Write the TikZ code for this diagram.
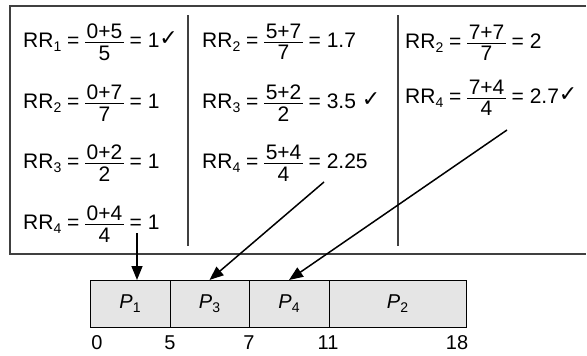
\documentclass[tikz,border=0pt]{standalone}
\usepackage{fontspec}
\usepackage{amsmath}
\setmainfont{Liberation Sans}
\newfontfamily\symfont{DejaVu Sans}
\usetikzlibrary{positioning,arrows.meta}

% stacked fraction with plain text
\newcommand{\fr}[2]{\ensuremath{\vcenter{\hbox{%
  \setbox0=\hbox{#1}\setbox2=\hbox{#2}%
  \dimen0=\wd0 \ifdim\wd2>\dimen0 \dimen0=\wd2 \fi
  \advance\dimen0 by 3pt%
  \vbox{\hbox to\dimen0{\hss\box0\hss}\kern3pt\hrule height0.9pt\kern3pt%
        \hbox to\dimen0{\hss\box2\hss}}}}}}
\newcommand{\rr}[4]{RR\raisebox{-4.5pt}{\fontsize{14}{14}\selectfont #1} = \fr{#2}{#3} = #4}
\newcommand{\ok}{\raisebox{2pt}{\symfont\fontsize{22}{22}\selectfont ✓}}

\begin{document}
\begin{tikzpicture}[
  x=1pt, y=-1pt,
  frame/.style={line width=1.5pt, black!75},
  sep/.style={line width=1.2pt, black!75},
  eq/.style={anchor=west, inner sep=0pt, font=\fontsize{21}{25}\selectfont},
  cell/.style={draw, line width=0.8pt, fill=gray!20, minimum height=47pt,
               inner sep=0pt, outer sep=0pt, font=\fontsize{20}{24}\selectfont},
  tick/.style={font=\fontsize{20}{24}\selectfont, inner sep=0pt},
  arr/.style={-{Triangle[length=14pt, width=11pt]}, line width=1.5pt}
]
\useasboundingbox (0,0) rectangle (587,356);

% frame, open on the right
\draw[frame] (586,6) -- (10,6) -- (10,254) -- (586,254);
\draw[sep] (188,15) -- (188,246);
\draw[sep] (398,15) -- (398,246);

% first column
\node[eq] (a1) at (23,42)  {\rr{1}{0+5}{5}{1}\ok};
\node[eq] (a2) at (23,103) {\rr{2}{0+7}{7}{1}};
\node[eq] (a3) at (23,163) {\rr{3}{0+2}{2}{1}};
\node[eq] (a4) at (23,224) {\rr{4}{0+4}{4}{1}};

% second column
\node[eq] (b2) at (202,42)  {\rr{2}{5+7}{7}{1.7}};
\node[eq] (b3) at (202,103) {\rr{3}{5+2}{2}{3.5} \ok};
\node[eq] (b4) at (202,163) {\rr{4}{5+4}{4}{2.25}};

% third column
\node[eq] (c2) at (405,43) {\rr{2}{7+7}{7}{2}};
\node[eq] (c4) at (405,98) {\rr{4}{7+4}{4}{2.7}\ok};

% gantt chart
\node[cell, minimum width=80pt] (p1) at (130,303.5) {\textit{P}\raisebox{-4.5pt}{\fontsize{14}{14}\selectfont 1}};
\node[cell, minimum width=79pt, right=0pt of p1] (p3) {\textit{P}\raisebox{-4.5pt}{\fontsize{14}{14}\selectfont 3}};
\node[cell, minimum width=80pt, right=0pt of p3] (p4) {\textit{P}\raisebox{-4.5pt}{\fontsize{14}{14}\selectfont 4}};
\node[cell, minimum width=137pt, right=0pt of p4] (p2) {\textit{P}\raisebox{-4.5pt}{\fontsize{14}{14}\selectfont 2}};

\node[tick] (t0)  at (97,343)  {0};
\node[tick] (t5)  at (170,343) {5};
\node[tick] (t7)  at (249,343) {7};
\node[tick] (t11) at (328,343) {11};
\node[tick] (t18) at (457,343) {18};

% picks
\coordinate (s1) at (137,233);
\coordinate (s2) at (324,182);
\coordinate (s3) at (507,130);
\draw[arr] (s1) -- (s1 |- p1.north);
\draw[arr] (s2) -- (p3.north);
\draw[arr] (s3) -- (p4.north);

\end{tikzpicture}
\end{document}
